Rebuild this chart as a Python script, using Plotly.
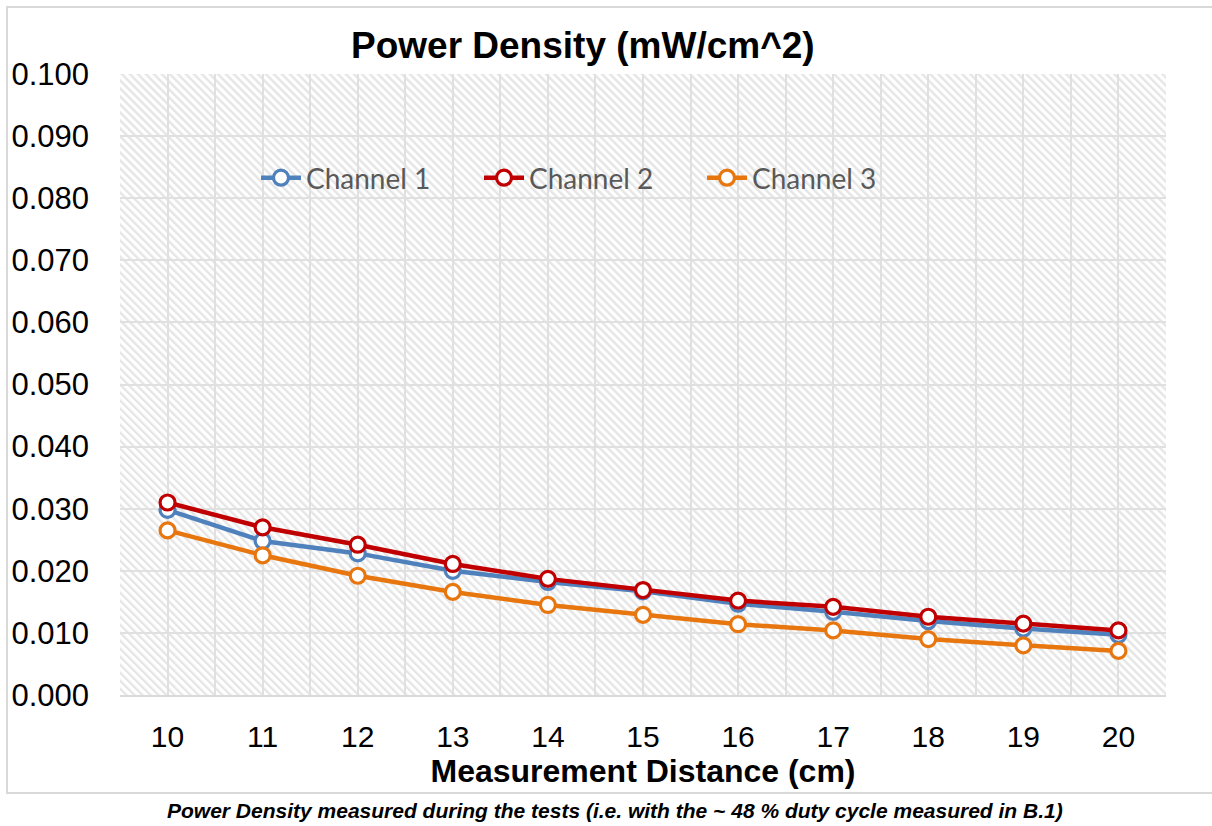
import base64
import plotly.graph_objects as go

# ---- data ----
distance_cm = [10, 11, 12, 13, 14, 15, 16, 17, 18, 19, 20]
channel_1 = [0.0298, 0.0248, 0.0228, 0.0200, 0.0182, 0.0167, 0.0147, 0.0134, 0.0119, 0.0107, 0.0097]
channel_2 = [0.0310, 0.0270, 0.0242, 0.0211, 0.0187, 0.0169, 0.0152, 0.0142, 0.0126, 0.0115, 0.0104]
channel_3 = [0.0265, 0.0225, 0.0192, 0.0166, 0.0145, 0.0129, 0.0114, 0.0104, 0.0090, 0.0080, 0.0071]
series_names = ["Channel 1", "Channel 2", "Channel 3"]
y_ticks = [0.0, 0.01, 0.02, 0.03, 0.04, 0.05, 0.06, 0.07, 0.08, 0.09, 0.10]

colors = ["#4F81BD", "#C00000", "#E8760F"]

W, H = 1212, 826
ML, MR, MT, MB = 120, 46, 74, 131
PW, PH = W - ML - MR, H - MT - MB

def px_x(p):
    return (p - ML) / PW

def px_y(p):
    return (H - MB - p) / PH

fig = go.Figure()
for name, vals, c in zip(series_names, [channel_1, channel_2, channel_3], colors):
    fig.add_trace(go.Scatter(
        x=distance_cm, y=vals, name=name, mode="lines+markers",
        line=dict(color=c, width=4.5),
        marker=dict(symbol="circle", size=15, color="white",
                    line=dict(color=c, width=3.2)),
    ))

# hatched plot-area background (decoration)
svg = (
    f'<svg xmlns="http://www.w3.org/2000/svg" width="{PW}" height="{PH}" '
    f'viewBox="0 0 {PW} {PH}" preserveAspectRatio="none">'
    '<defs><pattern id="p" width="5.66" height="5.66" patternUnits="userSpaceOnUse" '
    'patternTransform="rotate(-45)">'
    '<rect x="0" y="0" width="2.4" height="5.66" fill="#e5e5e5"/>'
    '</pattern></defs>'
    f'<rect width="{PW}" height="{PH}" fill="url(#p)"/></svg>'
)
src = "data:image/svg+xml;base64," + base64.b64encode(svg.encode()).decode()

fig.update_layout(
    width=W, height=H,
    margin=dict(l=ML, r=MR, t=MT, b=MB),
    paper_bgcolor="white", plot_bgcolor="white",
    font=dict(family="Liberation Sans, Arial", color="black"),
    images=[dict(source=src, xref="paper", yref="paper", x=0, y=1,
                 sizex=1, sizey=1, xanchor="left", yanchor="top",
                 sizing="stretch", layer="below")],
    showlegend=True,
    legend=dict(orientation="h", x=px_x(256), y=px_y(178), xanchor="left",
                yanchor="middle", bgcolor="rgba(0,0,0,0)",
                font=dict(family="Lato", size=28, color="#595959"),
                entrywidth=168, entrywidthmode="pixels", itemwidth=40),
    xaxis=dict(
        range=[9.5, 20.5], tickvals=distance_cm, ticktext=[str(d) for d in distance_cm],
        showgrid=True, gridcolor="#e0e0e0", gridwidth=2,
        minor=dict(tick0=9.5, dtick=1, showgrid=True, gridcolor="#e0e0e0", gridwidth=2),
        showline=True, linecolor="#d9d9d9", linewidth=2,
        ticks="", tickfont=dict(size=30), ticklabelstandoff=14,
        title=dict(text="<b>Measurement Distance (cm)</b>", font=dict(size=32), standoff=6),
        zeroline=False,
    ),
    yaxis=dict(
        range=[0, 0.1], tickvals=y_ticks, tickformat=".3f",
        showgrid=True, gridcolor="#e0e0e0", gridwidth=2,
        showline=False, zeroline=False, ticks="",
        tickfont=dict(size=31), ticklabelstandoff=30,
    ),
    annotations=[
        dict(text="<b>Power Density (mW/cm^2)</b>", xref="paper", yref="paper",
             x=px_x(583), y=px_y(45), xanchor="center", yanchor="middle",
             showarrow=False, font=dict(size=37, color="black")),
        dict(text="<b><i>Power Density measured during the tests (i.e. with the ~ 48 % duty cycle measured in B.1)</i></b>",
             xref="paper", yref="paper", x=px_x(615), y=px_y(810),
             xanchor="center", yanchor="middle", showarrow=False,
             font=dict(size=21, color="black")),
    ],
    shapes=[dict(type="rect", xref="paper", yref="paper",
                 x0=px_x(7), x1=px_x(1300), y0=px_y(793), y1=px_y(7),
                 line=dict(color="#d9d9d9", width=2), fillcolor="rgba(0,0,0,0)",
                 layer="below")],
)

fig.write_html(
    "out.html",
    config={"displayModeBar": False},
    post_script="document.body.style.margin='0';document.body.style.overflow='hidden';",
)
